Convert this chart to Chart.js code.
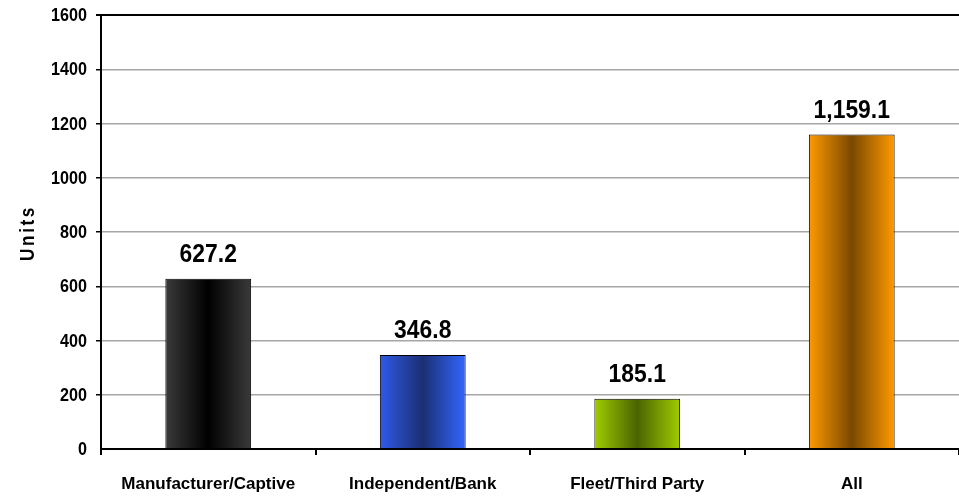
<!DOCTYPE html>
<html>
<head>
<meta charset="utf-8">
<script src="https://cdn.jsdelivr.net/npm/chart.js@4.4.1/dist/chart.umd.min.js"></script>
<style>
  html, body { margin: 0; padding: 0; background: #fff; }
  #wrap { width: 959px; height: 496px; }
</style>
</head>
<body>
<div id="wrap"><canvas id="unitsChart" width="959" height="496"></canvas></div>
<script>
// categories and values
const categories = ["Manufacturer/Captive", "Independent/Bank", "Fleet/Third Party", "All"]
const units = [627.2, 346.8, 185.1, 1159.1]
const yTicks = [0, 200, 400, 600, 800, 1000, 1200, 1400, 1600]

// bar gradient stops: [left edge, centre, right edge]
const barShades = [
  ["#3a3a3a", "#000000", "#3a3a3a"],
  ["#2f5ae8", "#1b2f72", "#3366ff"],
  ["#9fcc00", "#4a6400", "#9fcc00"],
  ["#ff9a00", "#7a4800", "#ff9a00"],
]

const FONT = "Arial, 'Liberation Sans', sans-serif"
const BAR_FRAC = 0.4

// horizontal gradient across each bar
function barFill(c) {
  const chart = c.chart
  const area = chart.chartArea
  const shades = barShades[c.dataIndex]
  if (!area || !chart.scales.x) return shades[0]
  const x = chart.scales.x
  const mid = x.getPixelForValue(c.dataIndex)
  const half = (x.width / categories.length) * BAR_FRAC / 2
  const g = chart.ctx.createLinearGradient(mid - half, 0, mid + half, 0)
  g.addColorStop(0, shades[0])
  g.addColorStop(0.5, shades[1])
  g.addColorStop(1, shades[2])
  return g
}

// condensed text: squeeze horizontally around the anchor point
function narrowText(ctx, txt, x, y, sx) {
  ctx.save()
  ctx.translate(x, y)
  ctx.scale(sx, 1)
  ctx.fillText(txt, 0, 0)
  ctx.restore()
}

// y tick labels, value labels above bars, rotated axis title
const extras = {
  id: "extras",
  afterDatasetsDraw(chart) {
    const ctx = chart.ctx
    const y = chart.scales.y
    ctx.save()
    ctx.fillStyle = "#000"

    ctx.font = "bold 19px " + FONT
    ctx.textAlign = "right"
    ctx.textBaseline = "middle"
    yTicks.forEach((v) => narrowText(ctx, String(v), 87, y.getPixelForValue(v) + 1, 0.85))

    ctx.font = "bold 26px " + FONT
    ctx.textAlign = "center"
    ctx.textBaseline = "alphabetic"
    chart.getDatasetMeta(0).data.forEach((bar, i) => {
      const txt = units[i].toLocaleString("en-US", { minimumFractionDigits: 1, maximumFractionDigits: 1 })
      narrowText(ctx, txt, bar.x, bar.y - 17, 0.88)
    })

    ctx.translate(28, 233)
    ctx.rotate(-Math.PI / 2)
    ctx.font = "bold 20px " + FONT
    ctx.letterSpacing = "3px"
    ctx.textAlign = "center"
    ctx.textBaseline = "middle"
    narrowText(ctx, "Units", 0, 0, 0.86)
    ctx.restore()
  },
}

new Chart(document.getElementById("unitsChart"), {
  type: "bar",
  data: {
    labels: categories,
    datasets: [{
      data: units,
      backgroundColor: barFill,
      borderColor: "#000",
      borderWidth: 1,
      borderSkipped: false,
      barPercentage: BAR_FRAC,
      categoryPercentage: 1,
    }],
  },
  options: {
    responsive: false,
    animation: false,
    layout: { padding: { top: 15, right: 0, left: 0, bottom: 0 } },
    plugins: { legend: { display: false }, tooltip: { enabled: false } },
    scales: {
      x: {
        grid: { offset: true, drawOnChartArea: false, drawTicks: true, tickLength: 6, color: "#000", lineWidth: 2 },
        border: { color: "#000", width: 2 },
        ticks: { color: "#000", font: { family: FONT, size: 17, weight: "bold" }, padding: 19, maxRotation: 0 },
        afterFit: (s) => { s.height = 47 },
      },
      y: {
        min: 0,
        max: 1600,
        afterBuildTicks: (s) => { s.ticks = yTicks.map((v) => ({ value: v })) },
        grid: {
          color: (c) => (c.tick && c.tick.value === 1600 ? "#000" : "#a6a6a6"),
          lineWidth: (c) => (c.tick && c.tick.value === 0 ? 0 : c.tick && c.tick.value === 1600 ? 2 : 1.5),
          tickColor: "#000",
          tickLength: 5,
          drawTicks: true,
        },
        border: { color: "#000", width: 2 },
        ticks: { display: false },
        afterFit: (s) => { s.width = 101 },
      },
    },
  },
  plugins: [extras],
})
</script>
</body>
</html>
